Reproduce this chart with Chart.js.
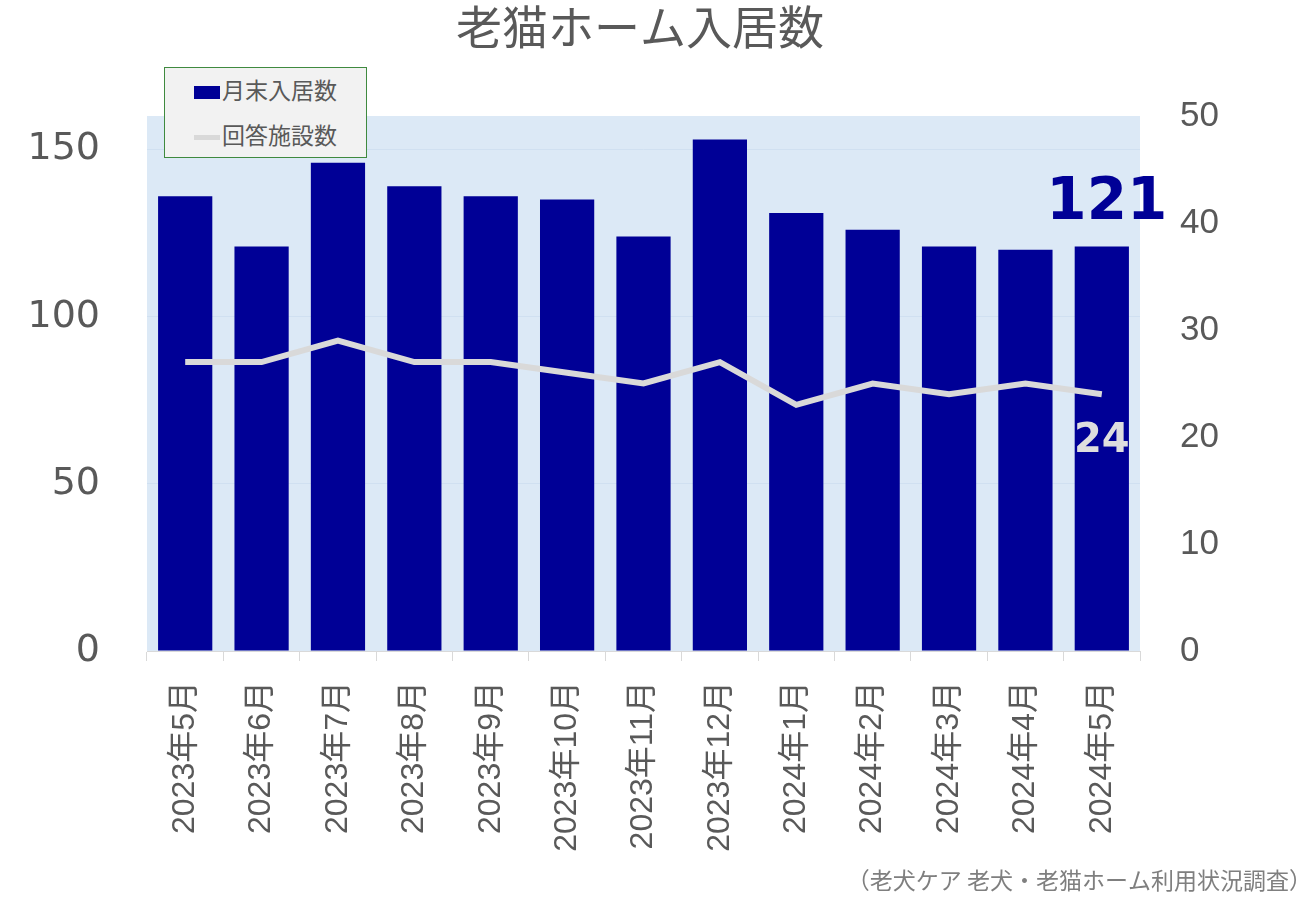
<!DOCTYPE html>
<html>
<head>
<meta charset="utf-8">
<script src="https://cdn.jsdelivr.net/npm/chart.js@4.4.1/dist/chart.umd.min.js"></script>
<style>
body{margin:0;background:#fff;}
#wrap{position:relative;width:1300px;height:900px;}
#legend{position:absolute;left:164px;top:67px;width:201px;height:89px;background:#f2f2f2;border:1px solid #3f8a3f;
  font-family:"Noto Sans CJK JP",sans-serif;font-size:23px;color:#595959;}
.item{position:absolute;left:29px;height:30px;line-height:30px;}
.sw{display:inline-block;width:26px;vertical-align:middle;margin-right:2px;}
</style>
</head>
<body>
<div id="wrap">
<canvas id="myChart" width="1300" height="900"></canvas>
<div id="legend">
  <div class="item" style="top:6px"><span class="sw" style="height:13px;background:#000096"></span>月末入居数</div>
  <div class="item" style="top:51px"><span class="sw" style="height:5px;background:#d9d9d9"></span>回答施設数</div>
</div>
</div>
<script>
var months=["2023年5月","2023年6月","2023年7月","2023年8月","2023年9月","2023年10月","2023年11月","2023年12月","2024年1月","2024年2月","2024年3月","2024年4月","2024年5月"]
var residents=[136,121,146,139,136,135,124,153,131,126,121,120,121]
var facilities=[27,27,29,27,27,26,25,27,23,25,24,25,24]
var leftTicks=[0,50,100,150]

var gray="#595959"

var extras={
    id:"extras",
    beforeDraw:function(chart){
        var a=chart.chartArea, ctx=chart.ctx
        ctx.save()
        ctx.fillStyle="#dce9f6"
        ctx.fillRect(a.left,a.top,a.right-a.left,a.bottom-a.top)
        ctx.restore()
    },
    afterDraw:function(chart){
        var ctx=chart.ctx
        ctx.save()
        // title
        ctx.fillStyle=gray
        ctx.font='46px "Noto Sans CJK JP"'
        ctx.textAlign="center"
        ctx.textBaseline="middle"
        ctx.fillText("老猫ホーム入居数",640,27)
        // source
        ctx.fillStyle="#7f7f7f"
        ctx.font='23px "Noto Sans CJK JP"'
        ctx.textAlign="right"
        ctx.fillText("（老犬ケア 老犬・老猫ホーム利用状況調査）",1312,880)
        // last value labels
        var last=months.length-1
        var bar=chart.getDatasetMeta(1).data[last]
        var pt=chart.getDatasetMeta(0).data[last]
        ctx.textAlign="center"
        ctx.textBaseline="alphabetic"
        ctx.fillStyle="#000096"
        ctx.font='bold 58px "DejaVu Sans"'
        ctx.fillText(residents[last],bar.x+5,bar.y-27)
        ctx.fillStyle="#dedede"
        ctx.font='bold 40px "DejaVu Sans"'
        ctx.fillText(facilities[last],pt.x,pt.y+58)
        ctx.restore()
    }
}

var myChart=document.getElementById("myChart").getContext('2d')
var chart=new Chart(myChart,{
    type:'bar',
    data:{
        labels:months,
        datasets:[
            {
                type:'line',
                label:"回答施設数",
                data:facilities,
                borderColor:"#d9d9d9",
                borderWidth:6,
                pointRadius:0,
                tension:0,
                yAxisID:'y1',
                order:0
            },
            {
                label:"月末入居数",
                data:residents,
                backgroundColor:"#000096",
                categoryPercentage:1,
                barPercentage:0.71,
                yAxisID:'y',
                order:1
            }
        ]
    },
    options:{
        responsive:false,
        animation:false,
        layout:{padding:{top:116,left:0,right:0,bottom:0}},
        plugins:{
            legend:{display:false},
            tooltip:{enabled:false}
        },
        scales:{
            x:{
                offset:true,
                grid:{display:true,drawOnChartArea:false,drawTicks:true,tickLength:10,color:"#d9d9d9",offset:true},
                border:{display:true,color:"#d9d9d9"},
                ticks:{
                    color:gray,
                    font:{family:'"Liberation Sans","Noto Sans CJK JP"',size:32},
                    minRotation:90,maxRotation:90,
                    padding:20,
                    autoSkip:false
                },
                afterFit:function(s){s.height=249}
            },
            y:{
                position:'left',
                min:0,max:160,
                grid:{color:"#d0e0f1",drawTicks:false},
                border:{display:false},
                ticks:{
                    color:gray,
                    font:{family:'"DejaVu Sans"',size:38},
                    padding:47
                },
                afterBuildTicks:function(s){
                    s.ticks=leftTicks.map(function(v){return {value:v}})
                },
                afterFit:function(s){s.width=147}
            },
            y1:{
                position:'right',
                min:0,max:50,
                grid:{display:false,drawTicks:false},
                border:{display:false},
                ticks:{
                    stepSize:10,
                    color:gray,
                    font:{family:'"Liberation Sans"',size:35},
                    padding:40
                },
                afterFit:function(s){s.width=160}
            }
        }
    },
    plugins:[extras]
})
</script>
</body>
</html>
